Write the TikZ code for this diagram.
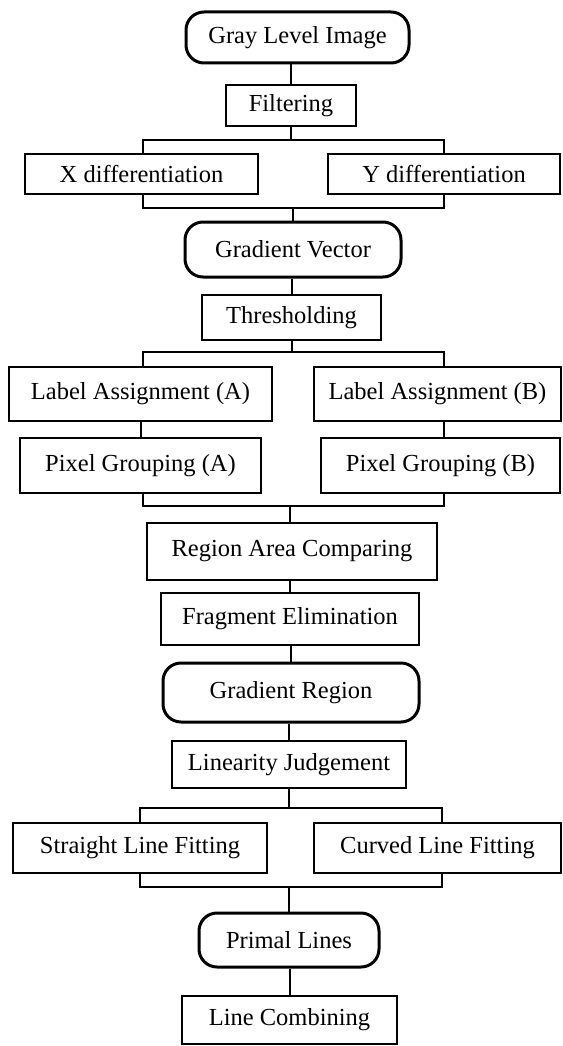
\documentclass[tikz,border=0pt]{standalone}
\usepackage{fontspec}
\setmainfont{Liberation Serif}
\tikzset{
  stage/.style={draw, line width=1.8pt, inner sep=0pt, font=\fontsize{24.5}{28}\selectfont},
  data/.style={stage, line width=3pt, rounded corners=18pt},
  link/.style={line width=2pt}
}
\begin{document}
\begin{tikzpicture}[x=1pt,y=-1pt]
  \useasboundingbox (0,0) rectangle (562,1046);

  \node[data, minimum width=223pt, minimum height=51pt] (gray) at (297.5,37.5) {Gray Level Image};
  \node[stage, minimum width=130pt, minimum height=41pt] (filt) at (291,105.5) {Filtering};
  \node[stage, minimum width=233pt, minimum height=40pt] (xd) at (141.5,174) {X differentiation};
  \node[stage, minimum width=232pt, minimum height=40pt] (yd) at (444,174) {Y differentiation};
  \node[data, minimum width=216pt, minimum height=55pt] (gv) at (293,249.5) {Gradient Vector};
  \node[stage, minimum width=179pt, minimum height=45pt] (thr) at (291.5,317.5) {Thresholding};
  \node[stage, minimum width=263pt, minimum height=54pt] (laa) at (140.5,394) {Label Assignment (A)};
  \node[stage, minimum width=247pt, minimum height=54pt] (lab) at (437.5,394) {Label Assignment (B)};
  \node[stage, minimum width=241pt, minimum height=55pt] (pga) at (140.5,465.5) {Pixel Grouping (A)};
  \node[stage, minimum width=239pt, minimum height=55pt] (pgb) at (440.5,465.5) {Pixel Grouping (B)};
  \node[stage, minimum width=290pt, minimum height=57pt] (rac) at (292,551.5) {Region Area Comparing};
  \node[stage, minimum width=258pt, minimum height=52pt] (fe) at (290,619) {Fragment Elimination};
  \node[data, minimum width=256pt, minimum height=59pt] (gr) at (291,692.5) {Gradient Region};
  \node[stage, minimum width=234pt, minimum height=47pt] (lj) at (289,764.5) {Linearity Judgement};
  \node[stage, minimum width=254pt, minimum height=50pt] (slf) at (140,848) {Straight Line Fitting};
  \node[stage, minimum width=247pt, minimum height=50pt] (clf) at (437.5,848) {Curved Line Fitting};
  \node[data, minimum width=180pt, minimum height=54pt] (pl) at (289,940) {Primal Lines};
  \node[stage, minimum width=215pt, minimum height=48pt] (lc) at (289.5,1020) {Line Combining};

  \coordinate (b1l) at (143,140);  \coordinate (b1r) at (444,140);
  \coordinate (b2l) at (143,208);  \coordinate (b2r) at (444,208);
  \coordinate (b3l) at (143,352);  \coordinate (b3r) at (444,352);
  \coordinate (b4l) at (143,506);  \coordinate (b4r) at (444,506);
  \coordinate (b5l) at (140,808);  \coordinate (b5r) at (442,808);
  \coordinate (b6l) at (140,887);  \coordinate (b6r) at (442,887);

  \draw[link] (filt.north) -- (filt.north |- gray.south);
  \draw[link] (filt.south) -- (filt.south |- b1l);
  \draw[link] (b1l |- xd.north) -- (b1l) -- (b1r) -- (b1r |- yd.north);
  \draw[link] (b2l |- xd.south) -- (b2l) -- (b2r) -- (b2r |- yd.south);
  \draw[link] (gv.north) -- (gv.north |- b2l);
  \draw[link] (thr.north) -- (thr.north |- gv.south);
  \draw[link] (thr.south) -- (thr.south |- b3l);
  \draw[link] (b3l |- laa.north) -- (b3l) -- (b3r) -- (b3r |- lab.north);
  \draw[link] (pga.north) -- (pga.north |- laa.south);
  \draw[link] (b3r |- pgb.north) -- (b3r |- lab.south);
  \draw[link] (b4l |- pga.south) -- (b4l) -- (b4r) -- (b4r |- pgb.south);
  \draw[link] (rac.north -| fe.north) -- (fe.north |- b4l);
  \draw[link] (fe.north) -- (fe.north |- rac.south);
  \draw[link] (gr.north) -- (gr.north |- fe.south);
  \draw[link] (lj.north) -- (lj.north |- gr.south);
  \draw[link] (lj.south) -- (lj.south |- b5l);
  \draw[link] (b5l |- slf.north) -- (b5l) -- (b5r) -- (b5r |- clf.north);
  \draw[link] (b6l |- slf.south) -- (b6l) -- (b6r) -- (b6r |- clf.south);
  \draw[link] (pl.north) -- (pl.north |- b6l);
  \draw[link] (lc.north) -- (lc.north |- pl.south);
\end{tikzpicture}
\end{document}
